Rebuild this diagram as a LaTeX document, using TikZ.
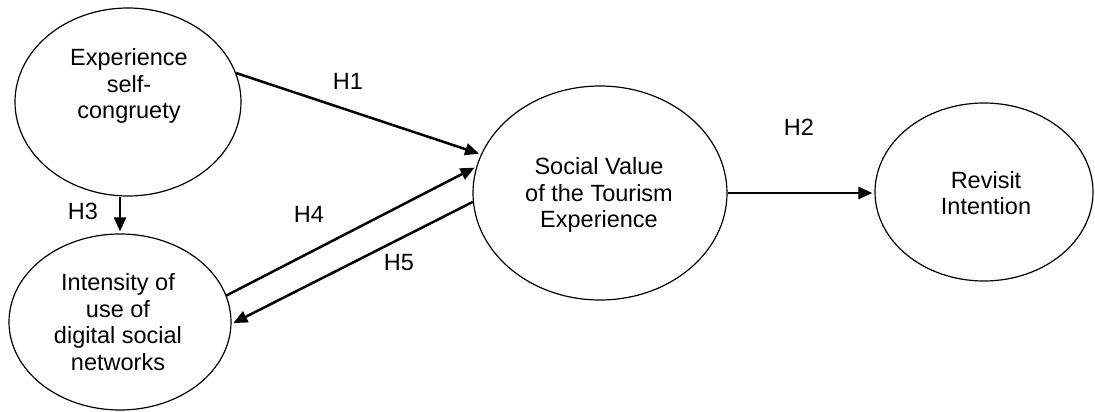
\documentclass[tikz,border=0pt]{standalone}
\usepackage{fontspec}
\setmainfont{Liberation Sans}
\usetikzlibrary{shapes.geometric,arrows.meta}
\begin{document}
\begin{tikzpicture}[x=1pt,y=-1pt,
  construct/.style={draw=black,line width=1.2pt,ellipse,inner sep=0pt,fill=none},
  lbl/.style={align=center,font=\fontsize{23.5}{26.5}\selectfont,inner sep=0pt},
  arr/.style={draw=black,line width=2.5pt,-{Triangle[length=14pt,width=12pt]},shorten >=2pt},
  hyp/.style={font=\fontsize{23.5}{26.5}\selectfont,inner sep=0pt}]
\useasboundingbox[fill=white] (0,0) rectangle (1095,412);
% constructs
\node[construct,minimum width=226pt,minimum height=188pt] (e1) at (128,102) {};
\node[construct,minimum width=222pt,minimum height=176pt] (e2) at (120,322) {};
\node[construct,minimum width=254pt,minimum height=214pt] (e3) at (600,193) {};
\node[construct,minimum width=218pt,minimum height=178pt] (e4) at (984,192) {};
\node[lbl] (t1) at (129,86) {Experience\\self-\\congruety};
\node[lbl] (t2) at (118,322) {Intensity of\\use of\\digital social\\networks};
\node[lbl] (t3) at (599,195) {Social Value\\of the Tourism\\Experience};
\node[lbl] (t4) at (986,193) {Revisit\\Intention};
% paths
\draw[arr] (e1.15) -- (e3.162);
\draw[arr] (e2.north |- e1.south) -- (e2.north);
\draw[arr] (e2.14) -- (e3.168);
\draw[arr] (e3.184) -- (e2.-1);
\draw[arr] (e3.east) -- (e3.east -| e4.west);
% hypothesis labels
\node[hyp] (h1) at (348,81) {H1};
\node[hyp] (h2) at (799,127) {H2};
\node[hyp] (h3) at (83,211) {H3};
\node[hyp] (h4) at (309,214) {H4};
\node[hyp] (h5) at (399,263) {H5};
\end{tikzpicture}
\end{document}
